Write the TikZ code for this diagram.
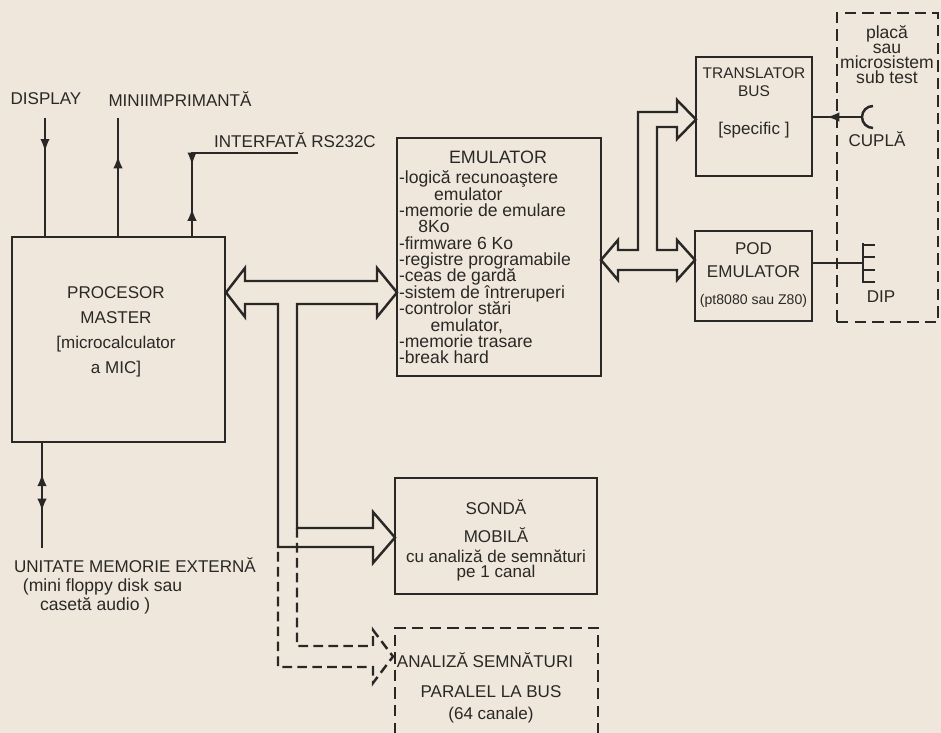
\documentclass[tikz,border=0pt]{standalone}
\usepackage{fontspec}
\setmainfont{Liberation Sans}
\usetikzlibrary{calc,positioning,decorations.markings}
\definecolor{paper}{RGB}{239,231,219}
\definecolor{ink}{RGB}{42,40,38}
\lineskiplimit=-6pt
\tikzset{midarr/.style={postaction={decorate},
    decoration={markings, mark=at position #1 with {\arrow{latex}}}},
  twoarr/.style={postaction={decorate},
    decoration={markings, mark=at position 0.3 with {\arrowreversed{latex}},
                mark=at position 0.65 with {\arrow{latex}}}}}

\begin{document}
\begin{tikzpicture}[x=0.02cm, y=-0.02cm, color=ink, line width=1.4pt]
\tikzstyle{every node}=[inner sep=0pt, outer sep=0pt, align=center,
                        font=\fontsize{9.7}{11.5}\selectfont]
\tikzstyle{box}=[draw, rectangle, line width=1.6pt]
\tikzstyle{dbox}=[box, dash pattern=on 6.5pt off 3.5pt]
\tikzstyle{dline}=[dash pattern=on 5.5pt off 3pt]
\clip (0,0) rectangle (941,733);
\fill[paper] (0,0) rectangle (941,733);

\node[box, minimum width=4.26cm, minimum height=4.10cm] (proc) at (118.5,339.5) {};
\node[font=\fontsize{9.7}{14.2}\selectfont] (proct) at (116,332)
  {PROCESOR\\MASTER\\{[}microcalculator\\a MIC{]}};
\node[box, minimum width=4.08cm, minimum height=4.76cm] (emul) at (499,257) {};
\node[font=\fontsize{10.2}{12}\selectfont] (emult) at (498,157) {EMULATOR};
\node[anchor=north west, align=left, font=\fontsize{10}{9.3}\selectfont] (emull) at (399,171)
  {-logică recunoaştere\\
   \hspace*{2em}emulator\\
   -memorie de emulare\\
   \hspace*{1.1em}8Ko\\
   -firmware 6 Ko\\
   -registre programabile\\
   -ceas de gardă\\
   -sistem de întreruperi\\
   -controlor stări\\
   \hspace*{1.8em}emulator,\\
   -memorie trasare\\
   -break hard};
\node[box, minimum width=2.32cm, minimum height=2.38cm] (trans) at (754,116.5) {};
\node[font=\fontsize{8.8}{10.5}\selectfont] (transt) at (754,82) {TRANSLATOR\\BUS};
\node (transs) at (754,130) {{[}specific {]}};
\node[box, minimum width=2.34cm, minimum height=1.80cm] (pod) at (753.5,276) {};
\node[font=\fontsize{9.7}{13}\selectfont] (podt) at (753.5,260) {POD\\EMULATOR};
\node[font=\fontsize{8}{9}\selectfont] (pods) at (753.5,301) {(pt8080 sau Z80)};
\node[box, minimum width=4.04cm, minimum height=2.32cm] (sonda) at (496,536) {};
\node[font=\fontsize{9.7}{15.9}\selectfont] (sondat) at (496,521) {SONDĂ\\MOBILĂ};
\node[font=\fontsize{9.7}{8.8}\selectfont] (sondas) at (496,565.5)
  {cu analiză de semnături\\pe 1 canal};
\node[dbox, minimum width=4.06cm, minimum height=2.64cm] (anal) at (496.5,694) {};
\node (analt) at (485,660) {ANALIZĂ SEMNĂTURI};
\node[font=\fontsize{9.7}{12.5}\selectfont] (analp) at (491,704) {PARALEL LA BUS\\(64 canale)};
\node[dbox, minimum width=2.02cm, minimum height=6.18cm] (plac) at (887.5,167.5) {};
\node[font=\fontsize{10}{8.5}\selectfont] (plact) at (887,54.5) {placă\\sau\\microsistem\\sub test};
\node (cupla) at (877,139) {CUPLĂ};
\node (dip) at (881,297) {DIP};

\node (display) at (46,99) {DISPLAY};
\node (mini) at (180,99) {MINIIMPRIMANTĂ};
\node (rs) at (295,140) {INTERFATĂ RS232C};
\node[anchor=west] (unit) at (14,565) {UNITATE MEMORIE EXTERNĂ};
\node[anchor=west, font=\fontsize{10}{12}\selectfont] (unitd) at (23,587) {(mini floppy disk sau};
\node[anchor=west, font=\fontsize{10}{12}\selectfont] (unitc) at (40,606) {casetă audio )};

\coordinate (dtop) at (45,118);
\coordinate (mtop) at (118,118);
\coordinate (rsend) at (298,153);
\coordinate (rsbend) at (192,153);
\coordinate (ufoot) at (42,548);
\coordinate (cup) at (862,117);
\coordinate (comb) at (863,263);
\draw[midarr=0.28] (dtop) -- (dtop |- proc.north);
\draw[midarr=0.68] (mtop |- proc.north) -- (mtop);
\draw[postaction={decorate}, decoration={markings,
      mark=at position 0.62 with {\arrow{latex}},
      mark=at position 0.85 with {\arrowreversed{latex}}}]
  (rsend) -- (rsbend) -- (rsbend |- proc.north);
\draw[twoarr] (ufoot |- proc.south) -- (ufoot);
\draw[midarr=0.7] (cup) -- (trans.east |- cup);
\draw (cup) ++(11,-11) arc[start angle=90, end angle=270, radius=0.22cm];
\draw (pod.east |- comb) -- (comb);
\draw (863,243) -- (863,283) (863,245) -- (875,245) (863,257) -- (875,257)
      (863,270) -- (875,270) (863,282) -- (875,282);

\draw (245,281) -- (377,281) -- (377,268) -- (397,292.5) -- (377,317) -- (377,304)
  -- (297,304) -- (297,528) -- (373,528) -- (373,512) -- (395,537.5) -- (373,563)
  -- (373,547) -- (278,547) -- (278,304) -- (245,304) -- (245,317) -- (226,292.5)
  -- (245,268) -- cycle;
\draw[dline] (297,528) -- (297,646) -- (373,646) -- (373,630) -- (393,656.5)
  -- (373,683) -- (373,667) -- (278,667) -- (278,547);
\draw (618,250) -- (638,250) -- (638,112) -- (677,112) -- (677,100) -- (696,119.5)
  -- (677,139) -- (677,127) -- (657,127) -- (657,250) -- (677,250) -- (677,240)
  -- (695,260) -- (677,280) -- (677,270) -- (618,270) -- (618,280) -- (601,260)
  -- (618,240) -- cycle;
\end{tikzpicture}
\end{document}
